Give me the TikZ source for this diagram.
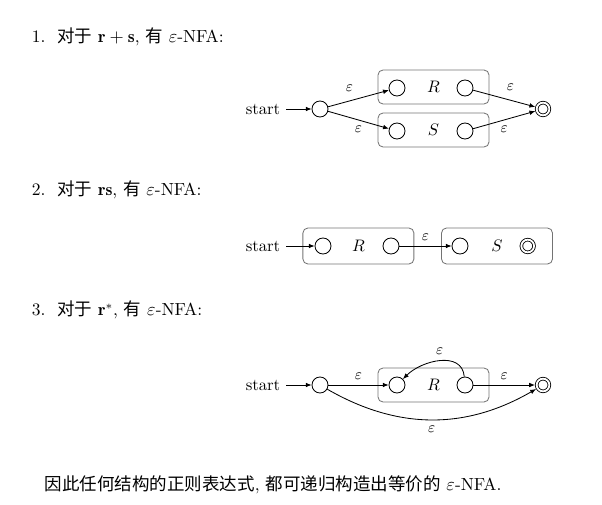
\documentclass[tikz,border=0pt]{standalone}
\usepackage{fontspec}
\newfontfamily\cjk{Noto Sans CJK SC}
\usetikzlibrary{arrows.meta}
\tikzset{
  nfastate/.style={circle,draw,minimum size=9.6pt,inner sep=0pt},
  nfafinal/.style={circle,draw,minimum size=7.6pt,inner sep=0pt,double,double distance=1.1pt,outer sep=1pt},
  nfabox/.style={draw=black!55,rounded corners=3pt,minimum width=66.6pt,minimum height=20.4pt},
  eps/.style={font=\small},
  line/.style={anchor=west,font=\fontsize{10.5pt}{12pt}\selectfont},
}
\begin{document}
\begin{tikzpicture}[x=0.6pt,y=-0.6pt,>={Latex[length=3.5pt,width=2.8pt]},line width=0.5pt]
\useasboundingbox (0,0) rectangle (602,504);
% headings
\node[line] (t1) at (26,37) {1.\ \ {\cjk 对于} $\mathbf{r}+\mathbf{s}$, {\cjk 有} $\varepsilon$-NFA:};
\node[line] (t2) at (26,190) {2.\ \ {\cjk 对于} $\mathbf{rs}$, {\cjk 有} $\varepsilon$-NFA:};
\node[line] (t3) at (26,310) {3.\ \ {\cjk 对于} $\mathbf{r}^*$, {\cjk 有} $\varepsilon$-NFA:};
\node[line] (tend) at (39,485) {{\cjk 因此任何结构的正则表达式}, {\cjk 都可递归构造出等价的} $\varepsilon$-NFA.};
% r+s
\node[nfabox] (s1rbox) at (433.5,87) {$R$};
\node[nfabox] (s1sbox) at (433.5,130) {$S$};
\node[nfastate] (s1r1) at (397,88) {};
\node[nfastate] (s1r2) at (465,88) {};
\node[nfastate] (s1s1) at (397,131) {};
\node[nfastate] (s1s2) at (465,131) {};
\node[nfastate] (s1i) at (320,109) {};
\node[nfafinal] (s1f) at (543,109) {};
\node (s1start) at (263,109) {start};
\draw[->] (s1start) -- (s1i);
\draw[->] (s1i) -- node[eps,pos=.35,above=2pt] {$\varepsilon$} (s1r1);
\draw[->] (s1i) -- node[eps,pos=.5,below] {$\varepsilon$} (s1s1);
\draw[->] (s1r2) -- node[eps,pos=.6,above=2pt] {$\varepsilon$} (s1f);
\draw[->] (s1s2) -- node[eps,pos=.5,below] {$\varepsilon$} (s1f);
% rs
\node[nfabox,minimum height=21.6pt] (s2rbox) at (358.4,246) {$R$};
\node[nfabox,minimum height=21.6pt] (s2sbox) at (497,246) {$S$};
\node[nfastate] (s2r1) at (323,246) {};
\node[nfastate] (s2r2) at (391,246) {};
\node[nfastate] (s2s1) at (460,246) {};
\node[nfafinal] (s2f) at (527.7,246) {};
\node (s2start) at (263,246) {start};
\draw[->] (s2start) -- (s2r1);
\draw[->] (s2r2) -- node[eps,above] {$\varepsilon$} (s2s1);
% r*
\node[nfabox] (s3rbox) at (433.5,385) {$R$};
\node[nfastate] (s3r1) at (397,385) {};
\node[nfastate] (s3r2) at (465,385) {};
\node[nfastate] (s3i) at (320,385) {};
\node[nfafinal] (s3f) at (543,385) {};
\node (s3start) at (263,385) {start};
\draw[->] (s3start) -- (s3i);
\draw[->] (s3i) -- node[eps,above] {$\varepsilon$} (s3r1);
\draw[->] (s3r2) -- node[eps,above] {$\varepsilon$} (s3f);
\draw[->] (s3r2) to[out=95,in=45,looseness=1.1] node[eps,above] {$\varepsilon$} (s3r1);
\draw[->] (s3i) to[bend right=30] node[eps,below] {$\varepsilon$} (s3f);
\end{tikzpicture}
\end{document}
